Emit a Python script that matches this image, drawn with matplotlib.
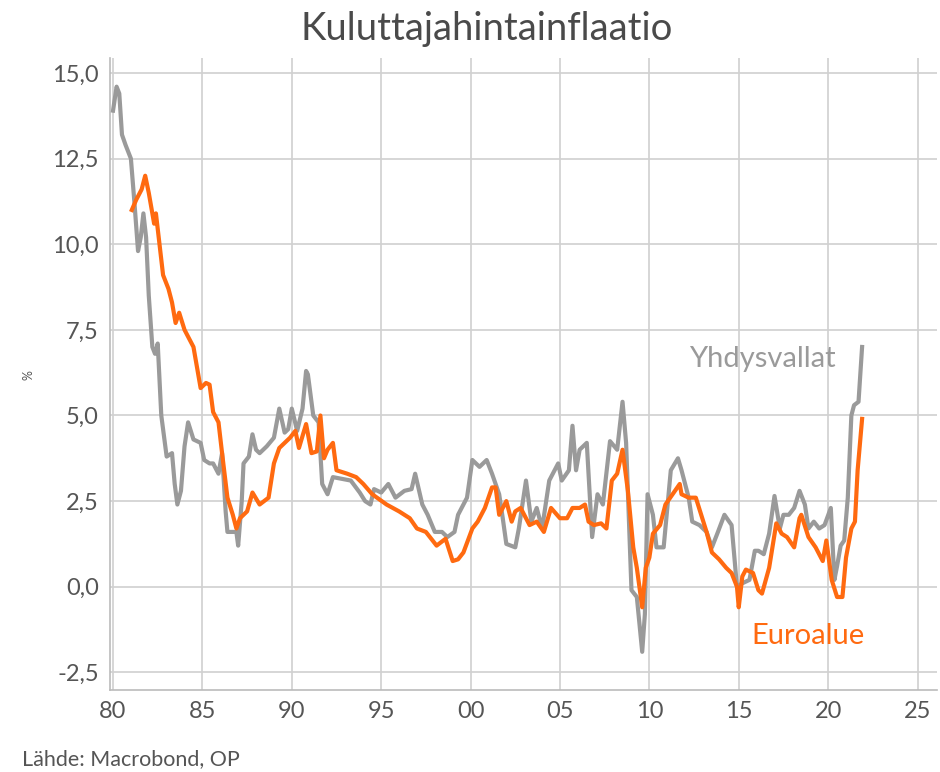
import matplotlib
matplotlib.use("Agg")
import matplotlib.pyplot as plt
from matplotlib.ticker import FuncFormatter, MultipleLocator

plt.rcParams["font.family"] = ["Lato", "DejaVu Sans"]

# Yhdysvallat (USA), CPI y/y %
us_years = [1980.0, 1980.2, 1980.35, 1980.5, 1980.7, 1981.0, 1981.2, 1981.4, 1981.55, 1981.7,
            1981.85, 1982.0, 1982.2, 1982.35, 1982.5, 1982.7, 1983.0, 1983.3, 1983.45, 1983.6,
            1983.8, 1984.0, 1984.2, 1984.5, 1984.9, 1985.1, 1985.4, 1985.6, 1985.9, 1986.1,
            1986.3, 1986.4, 1986.7, 1986.9, 1987.0, 1987.2, 1987.3, 1987.6, 1987.8, 1988.0,
            1988.2, 1988.6, 1989.0, 1989.3, 1989.6, 1989.8, 1990.0, 1990.3, 1990.6, 1990.8,
            1990.9, 1991.2, 1991.5, 1991.7, 1992.0, 1992.3, 1992.8, 1993.3, 1993.8, 1994.1,
            1994.4, 1994.6, 1995.0, 1995.4, 1995.8, 1996.3, 1996.7, 1996.9, 1997.3, 1997.6,
            1998.0, 1998.4, 1998.7, 1999.1, 1999.3, 1999.8, 2000.1, 2000.5, 2000.9, 2001.2,
            2001.6, 2001.8, 2002.0, 2002.5, 2002.7, 2003.1, 2003.4, 2003.7, 2004.0, 2004.4,
            2004.9, 2005.1, 2005.5, 2005.7, 2005.9, 2006.1, 2006.5, 2006.8, 2007.1, 2007.4,
            2007.8, 2008.2, 2008.5, 2008.7, 2009.0, 2009.3, 2009.6, 2009.75, 2009.9, 2010.2,
            2010.4, 2010.8, 2011.2, 2011.6, 2011.8, 2012.2, 2012.4, 2012.8, 2013.2, 2013.5,
            2013.8, 2014.2, 2014.6, 2014.9, 2015.2, 2015.6, 2015.9, 2016.1, 2016.4, 2016.7,
            2017.0, 2017.3, 2017.5, 2017.8, 2018.1, 2018.4, 2018.7, 2018.9, 2019.2, 2019.5,
            2019.8, 2020.15, 2020.35, 2020.5, 2020.7, 2020.9, 2021.1, 2021.3, 2021.45, 2021.7,
            2021.9]
us_cpi = [13.9, 14.6, 14.4, 13.2, 12.9, 12.5, 11.2, 9.8, 10.2, 10.9,
          10.2, 8.5, 7.0, 6.8, 7.1, 5.0, 3.8, 3.9, 3.0, 2.4,
          2.8, 4.1, 4.8, 4.3, 4.2, 3.7, 3.6, 3.6, 3.3, 3.9,
          2.2, 1.6, 1.6, 1.6, 1.2, 2.5, 3.6, 3.8, 4.45, 4.0,
          3.9, 4.1, 4.35, 5.2, 4.5, 4.6, 5.2, 4.55, 5.2, 6.3,
          6.2, 5.0, 4.8, 3.0, 2.7, 3.2, 3.15, 3.1, 2.75, 2.5,
          2.4, 2.85, 2.75, 3.0, 2.6, 2.8, 2.85, 3.3, 2.4, 2.1,
          1.6, 1.6, 1.45, 1.6, 2.1, 2.6, 3.7, 3.5, 3.7, 3.3,
          2.7, 2.0, 1.25, 1.15, 1.7, 3.1, 1.9, 2.3, 1.7, 3.1,
          3.6, 3.1, 3.4, 4.7, 3.4, 4.0, 4.2, 1.45, 2.7, 2.4,
          4.25, 4.0, 5.4, 4.2, -0.1, -0.3, -1.9, -0.8, 2.7, 2.1,
          1.15, 1.15, 3.4, 3.75, 3.4, 2.6, 1.9, 1.8, 1.6, 1.15,
          1.55, 2.1, 1.8, 0.0, 0.1, 0.2, 1.05, 1.05, 0.95, 1.55,
          2.65, 1.7, 2.1, 2.1, 2.3, 2.8, 2.4, 1.7, 1.9, 1.7,
          1.8, 2.3, 0.2, 0.6, 1.2, 1.35, 2.6, 5.0, 5.3, 5.4,
          7.0]

# Euroalue, HICP y/y %
ea_years = [1981.05, 1981.3, 1981.6, 1981.8, 1982.0, 1982.3, 1982.4, 1982.6, 1982.8, 1983.1,
            1983.3, 1983.5, 1983.7, 1984.0, 1984.3, 1984.5, 1984.9, 1985.2, 1985.4, 1985.6,
            1985.9, 1986.1, 1986.4, 1986.7, 1986.9, 1987.1, 1987.5, 1987.8, 1988.2, 1988.7,
            1989.0, 1989.3, 1989.9, 1990.2, 1990.4, 1990.8, 1991.1, 1991.4, 1991.6, 1991.8,
            1992.0, 1992.3, 1992.5, 1993.1, 1993.6, 1994.0, 1994.5, 1995.3, 1996.0, 1996.6,
            1997.0, 1997.5, 1998.1, 1998.6, 1999.0, 1999.3, 1999.6, 2000.1, 2000.4, 2000.8,
            2001.2, 2001.4, 2001.6, 2002.0, 2002.3, 2002.5, 2002.8, 2003.3, 2003.7, 2004.1,
            2004.5, 2005.0, 2005.4, 2005.7, 2006.1, 2006.4, 2006.6, 2006.9, 2007.3, 2007.6,
            2007.9, 2008.2, 2008.5, 2008.8, 2009.1, 2009.3, 2009.6, 2009.8, 2010.0, 2010.2,
            2010.6, 2010.9, 2011.3, 2011.7, 2011.8, 2012.2, 2012.6, 2012.9, 2013.2, 2013.5,
            2013.9, 2014.3, 2014.6, 2014.9, 2015.0, 2015.2, 2015.4, 2015.8, 2016.1, 2016.3,
            2016.7, 2017.1, 2017.4, 2017.7, 2018.1, 2018.4, 2018.5, 2018.9, 2019.3, 2019.7,
            2019.9, 2020.2, 2020.5, 2020.8, 2021.0, 2021.3, 2021.5, 2021.65, 2021.9]
ea_hicp = [11.0, 11.3, 11.6, 12.0, 11.5, 10.6, 10.9, 10.0, 9.1, 8.7,
           8.3, 7.7, 8.0, 7.5, 7.2, 7.0, 5.8, 5.95, 5.9, 5.1,
           4.8, 3.9, 2.6, 2.1, 1.7, 2.0, 2.2, 2.75, 2.4, 2.6,
           3.6, 4.05, 4.35, 4.55, 4.05, 4.75, 3.9, 3.95, 5.0, 3.75,
           4.0, 4.2, 3.4, 3.3, 3.2, 3.0, 2.7, 2.4, 2.2, 2.0,
           1.7, 1.6, 1.2, 1.4, 0.75, 0.8, 1.0, 1.7, 1.9, 2.3,
           2.9, 2.9, 2.1, 2.5, 1.9, 2.2, 2.3, 1.8, 1.9, 1.6,
           2.3, 2.0, 2.0, 2.3, 2.3, 2.4, 1.9, 1.8, 1.85, 1.7,
           3.1, 3.3, 4.0, 2.8, 1.15, 0.55, -0.6, 0.55, 0.85, 1.55,
           1.8, 2.4, 2.7, 3.0, 2.7, 2.6, 2.6, 2.1, 1.6, 1.0,
           0.8, 0.55, 0.4, 0.0, -0.6, 0.3, 0.5, 0.4, -0.1, -0.2,
           0.55, 1.85, 1.55, 1.45, 1.15, 2.0, 2.1, 1.45, 1.15, 0.75,
           1.35, 0.2, -0.3, -0.3, 0.85, 1.7, 1.9, 3.4, 4.9]

x_ticks = list(range(1980, 2026, 5))

GRAY = "#9a9a9a"
ORANGE = "#ff6a10"
TXT = "#555555"

fig = plt.figure(figsize=(9.4, 7.72), dpi=100)
ax = fig.add_axes([0.117, 0.106, 0.880, 0.819])

ax.plot(us_years, us_cpi, color=GRAY, lw=3, solid_joinstyle="round", zorder=3)
ax.plot(ea_years, ea_hicp, color=ORANGE, lw=3, solid_joinstyle="round", zorder=4)

ax.set_xlim(1979.83, 2026.1)
ax.set_ylim(-3.02, 15.44)
ax.set_xticks(x_ticks)
ax.xaxis.set_major_formatter(FuncFormatter(lambda v, p: "%02d" % (int(round(v)) % 100)))
ax.yaxis.set_major_locator(MultipleLocator(2.5))
ax.yaxis.set_major_formatter(FuncFormatter(lambda v, p: ("%.1f" % v).replace(".", ",")))

ax.grid(True, color="#d0d0d0", lw=1.2)
ax.set_axisbelow(True)
for s in ["top", "right"]:
    ax.spines[s].set_visible(False)
for s in ["left", "bottom"]:
    ax.spines[s].set_color("#bbbbbb")
    ax.spines[s].set_linewidth(1.2)
ax.tick_params(length=0, labelsize=17, colors=TXT, pad=8)

fig.text(0.030, 0.514, "%", fontsize=9, color=TXT, rotation=90, ha="center", va="center")

ax.text(2020.4, 6.65, "Yhdysvallat", color=GRAY, fontsize=21, ha="right", va="center")
ax.text(2015.7, -1.45, "Euroalue", color=ORANGE, fontsize=21, ha="left", va="center")

fig.text(0.518, 0.962, "Kuluttajahintainflaatio", fontsize=27.5, color="#4a4a4a",
         ha="center", va="center")
fig.text(0.023, 0.004, "Lähde: Macrobond, OP", fontsize=15.5, color=TXT, ha="left", va="bottom")

fig.savefig("out.png", dpi=100)
